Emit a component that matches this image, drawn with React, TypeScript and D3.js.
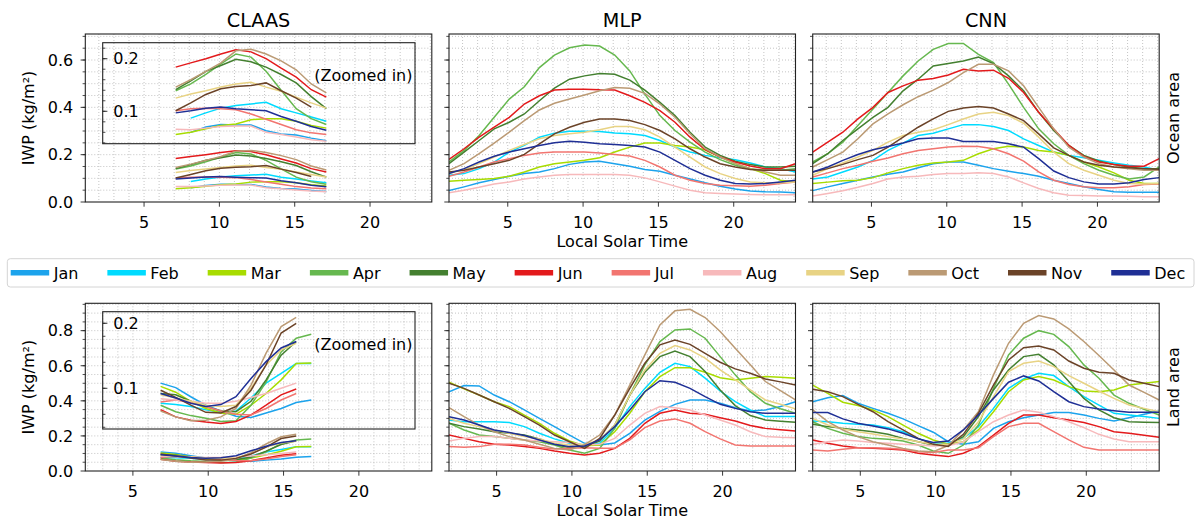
import React, { useMemo } from "react";
import * as d3 from "d3";

// months, colours
const months = ["Jan", "Feb", "Mar", "Apr", "May", "Jun", "Jul", "Aug", "Sep", "Oct", "Nov", "Dec"];
const monthColors = [
  "#1ca3ec", "#00dbff", "#a8dc00", "#66b84f", "#448030", "#e31a1c",
  "#f27570", "#f7b9bb", "#e8d384", "#bb9a74", "#6b4328", "#1f2f95",
];

// hours of the day (local solar time is hour + shift)
const hourOfDay = [1, 2, 3, 4, 5, 6, 7, 8, 9, 10, 11, 12, 13, 14, 15, 16, 17, 18, 19, 20, 21, 22, 23, 24];
const claasOceanHours = [7, 8, 9, 10, 11, 12, 13, 14, 15, 16, 17];
const claasLandHours = [6, 7, 8, 9, 10, 11, 12, 13, 14, 15, 16];

const xTicks = [5, 10, 15, 20];

// CLAAS, ocean (one row per month, null = no data)
const claasOcean = [
  [null, 0.060, 0.070, 0.075, 0.074, 0.074, 0.063, 0.057, 0.055, 0.049, 0.044],
  [null, 0.087, 0.097, 0.106, 0.111, 0.114, 0.117, 0.105, 0.097, 0.089, 0.081],
  [0.056, 0.060, 0.067, 0.073, 0.076, 0.084, 0.086, 0.086, 0.081, 0.073, 0.068],
  [0.139, 0.152, 0.170, 0.190, 0.209, 0.203, 0.176, 0.140, 0.105, 0.086, 0.075],
  [0.141, 0.158, 0.176, 0.187, 0.199, 0.194, 0.184, 0.170, 0.154, 0.128, 0.105],
  [0.184, 0.192, 0.200, 0.209, 0.217, 0.213, 0.200, 0.182, 0.165, 0.141, 0.127],
  [0.101, 0.105, 0.106, 0.105, 0.103, 0.095, 0.085, 0.075, 0.065, 0.059, 0.056],
  [0.066, 0.065, 0.068, 0.071, 0.072, 0.072, 0.060, 0.056, 0.051, 0.046, 0.043],
  [0.125, 0.133, 0.139, 0.146, 0.152, 0.155, 0.146, 0.138, 0.127, 0.116, 0.106],
  [0.146, 0.160, 0.176, 0.192, 0.215, 0.218, 0.209, 0.196, 0.179, 0.152, 0.135],
  [0.101, 0.116, 0.132, 0.143, 0.147, 0.149, 0.154, 0.139, 0.125, 0.108, null],
  [0.097, 0.101, 0.106, 0.108, 0.105, 0.103, 0.101, 0.090, 0.081, 0.071, 0.064],
];

// CLAAS, land
const claasLand = [
  [0.108, 0.101, 0.087, 0.074, 0.065, 0.057, 0.055, 0.062, 0.069, 0.078, 0.082],
  [0.077, 0.075, 0.072, 0.067, 0.063, 0.065, 0.085, 0.108, 0.123, 0.138, 0.138],
  [0.103, 0.094, 0.080, 0.069, 0.062, 0.060, 0.074, 0.092, 0.113, 0.138, 0.139],
  [0.074, 0.064, 0.058, 0.054, 0.049, 0.050, 0.074, 0.110, 0.156, 0.177, 0.183],
  [0.092, 0.090, 0.080, 0.072, 0.065, 0.064, 0.080, 0.113, 0.151, 0.172, null],
  [0.067, 0.056, 0.051, 0.048, 0.046, 0.049, 0.059, 0.074, 0.090, 0.099, null],
  [0.079, 0.082, 0.078, 0.072, 0.065, 0.060, 0.059, 0.069, 0.082, 0.092, null],
  [0.084, 0.082, 0.080, 0.077, 0.077, 0.080, 0.086, 0.092, 0.100, 0.108, null],
  [0.090, 0.085, 0.080, 0.074, 0.072, 0.074, 0.100, 0.136, 0.159, 0.169, null],
  [0.065, 0.056, 0.050, 0.051, 0.056, 0.069, 0.105, 0.154, 0.195, 0.209, null],
  [0.097, 0.086, 0.074, 0.063, 0.062, 0.072, 0.097, 0.136, 0.185, 0.200, null],
  [0.092, 0.085, 0.077, 0.072, 0.075, 0.087, 0.115, 0.141, 0.162, 0.172, null],
];

// MLP, ocean
const mlpOcean = [
  [0.048, 0.064, 0.081, 0.095, 0.109, 0.120, 0.127, 0.141, 0.159, 0.169, 0.172, 0.162, 0.151, 0.137, 0.130, 0.113, 0.097, 0.081, 0.067, 0.055, 0.046, 0.043, 0.042, 0.039],
  [0.113, 0.120, 0.141, 0.169, 0.211, 0.239, 0.274, 0.291, 0.299, 0.299, 0.298, 0.292, 0.288, 0.281, 0.260, 0.232, 0.211, 0.197, 0.187, 0.179, 0.165, 0.148, 0.141, 0.127],
  [0.088, 0.092, 0.095, 0.099, 0.109, 0.127, 0.148, 0.162, 0.169, 0.176, 0.187, 0.211, 0.232, 0.249, 0.249, 0.239, 0.232, 0.221, 0.190, 0.162, 0.141, 0.120, 0.092, 0.085],
  [0.169, 0.218, 0.281, 0.358, 0.435, 0.487, 0.568, 0.621, 0.652, 0.663, 0.659, 0.621, 0.554, 0.456, 0.365, 0.302, 0.253, 0.211, 0.179, 0.155, 0.141, 0.134, 0.134, 0.141],
  [0.162, 0.211, 0.260, 0.309, 0.337, 0.372, 0.428, 0.481, 0.519, 0.533, 0.543, 0.540, 0.515, 0.473, 0.421, 0.365, 0.295, 0.232, 0.197, 0.172, 0.158, 0.148, 0.148, 0.151],
  [0.180, 0.225, 0.274, 0.316, 0.358, 0.414, 0.449, 0.473, 0.477, 0.477, 0.474, 0.473, 0.449, 0.421, 0.386, 0.337, 0.274, 0.221, 0.190, 0.169, 0.152, 0.141, 0.141, 0.162],
  [0.109, 0.127, 0.148, 0.169, 0.183, 0.197, 0.207, 0.211, 0.211, 0.211, 0.207, 0.201, 0.194, 0.176, 0.148, 0.113, 0.092, 0.078, 0.071, 0.069, 0.067, 0.071, 0.078, 0.085],
  [0.039, 0.050, 0.062, 0.076, 0.085, 0.097, 0.106, 0.113, 0.116, 0.116, 0.116, 0.116, 0.113, 0.102, 0.085, 0.067, 0.050, 0.039, 0.036, 0.034, 0.032, 0.031, 0.031, 0.031],
  [0.120, 0.137, 0.162, 0.190, 0.218, 0.243, 0.267, 0.281, 0.288, 0.295, 0.305, 0.319, 0.319, 0.305, 0.274, 0.232, 0.190, 0.148, 0.120, 0.099, 0.085, 0.081, 0.081, 0.085],
  [0.134, 0.162, 0.204, 0.249, 0.295, 0.344, 0.389, 0.417, 0.435, 0.452, 0.470, 0.484, 0.481, 0.459, 0.414, 0.358, 0.288, 0.225, 0.190, 0.162, 0.141, 0.127, 0.113, 0.113],
  [0.127, 0.134, 0.148, 0.162, 0.176, 0.201, 0.246, 0.288, 0.316, 0.337, 0.351, 0.351, 0.344, 0.327, 0.302, 0.267, 0.225, 0.190, 0.162, 0.148, 0.137, 0.134, 0.134, 0.134],
  [0.120, 0.141, 0.169, 0.193, 0.211, 0.225, 0.239, 0.250, 0.257, 0.253, 0.246, 0.243, 0.239, 0.232, 0.211, 0.176, 0.141, 0.113, 0.092, 0.078, 0.076, 0.078, 0.085, 0.092],
];

// CNN, ocean
const cnnOcean = [
  [0.048, 0.064, 0.078, 0.092, 0.106, 0.117, 0.127, 0.145, 0.162, 0.169, 0.169, 0.155, 0.141, 0.130, 0.120, 0.109, 0.092, 0.078, 0.064, 0.053, 0.043, 0.041, 0.041, 0.041],
  [0.097, 0.106, 0.127, 0.148, 0.176, 0.218, 0.249, 0.281, 0.291, 0.309, 0.327, 0.327, 0.319, 0.302, 0.267, 0.239, 0.211, 0.197, 0.187, 0.176, 0.165, 0.155, 0.148, 0.134],
  [0.078, 0.084, 0.090, 0.092, 0.103, 0.123, 0.141, 0.155, 0.165, 0.169, 0.176, 0.204, 0.225, 0.236, 0.232, 0.218, 0.211, 0.197, 0.169, 0.148, 0.123, 0.092, 0.078, 0.078],
  [0.169, 0.204, 0.253, 0.323, 0.393, 0.463, 0.533, 0.596, 0.645, 0.670, 0.670, 0.624, 0.589, 0.498, 0.400, 0.309, 0.246, 0.197, 0.162, 0.134, 0.113, 0.097, 0.106, 0.148],
  [0.162, 0.204, 0.260, 0.309, 0.358, 0.400, 0.470, 0.519, 0.575, 0.585, 0.596, 0.613, 0.585, 0.533, 0.470, 0.379, 0.302, 0.239, 0.197, 0.173, 0.158, 0.148, 0.141, 0.141],
  [0.211, 0.253, 0.295, 0.351, 0.400, 0.463, 0.491, 0.515, 0.522, 0.537, 0.561, 0.554, 0.557, 0.523, 0.463, 0.379, 0.309, 0.239, 0.193, 0.169, 0.158, 0.151, 0.151, 0.183],
  [0.106, 0.123, 0.141, 0.155, 0.172, 0.186, 0.204, 0.218, 0.225, 0.232, 0.236, 0.235, 0.225, 0.204, 0.173, 0.127, 0.092, 0.074, 0.064, 0.060, 0.060, 0.064, 0.074, 0.076],
  [0.025, 0.036, 0.048, 0.062, 0.078, 0.097, 0.106, 0.109, 0.116, 0.120, 0.120, 0.124, 0.120, 0.106, 0.081, 0.057, 0.039, 0.029, 0.027, 0.025, 0.025, 0.024, 0.022, 0.022],
  [0.113, 0.141, 0.165, 0.190, 0.218, 0.253, 0.281, 0.295, 0.305, 0.327, 0.351, 0.372, 0.379, 0.365, 0.333, 0.274, 0.211, 0.162, 0.134, 0.113, 0.092, 0.078, 0.076, 0.078],
  [0.148, 0.179, 0.211, 0.267, 0.330, 0.372, 0.411, 0.445, 0.473, 0.505, 0.547, 0.582, 0.582, 0.554, 0.491, 0.400, 0.309, 0.232, 0.190, 0.162, 0.148, 0.141, 0.134, 0.134],
  [0.127, 0.141, 0.159, 0.179, 0.197, 0.232, 0.274, 0.316, 0.351, 0.383, 0.397, 0.404, 0.397, 0.372, 0.344, 0.288, 0.229, 0.197, 0.169, 0.155, 0.148, 0.145, 0.141, 0.138],
  [0.127, 0.148, 0.176, 0.201, 0.221, 0.235, 0.249, 0.267, 0.270, 0.270, 0.256, 0.256, 0.256, 0.246, 0.232, 0.183, 0.131, 0.103, 0.085, 0.076, 0.076, 0.081, 0.095, 0.103],
];

// MLP, land
const mlpLand = [
  [0.452, 0.487, 0.485, 0.433, 0.395, 0.348, 0.300, 0.253, 0.205, 0.158, 0.148, 0.160, 0.215, 0.290, 0.340, 0.380, 0.405, 0.405, 0.386, 0.361, 0.342, 0.348, 0.368, 0.395],
  [0.291, 0.281, 0.281, 0.281, 0.276, 0.253, 0.215, 0.183, 0.158, 0.143, 0.158, 0.243, 0.367, 0.471, 0.563, 0.614, 0.595, 0.529, 0.456, 0.395, 0.348, 0.310, 0.310, 0.310],
  [0.506, 0.468, 0.433, 0.395, 0.367, 0.319, 0.272, 0.215, 0.171, 0.144, 0.148, 0.224, 0.329, 0.452, 0.538, 0.589, 0.589, 0.563, 0.532, 0.519, 0.529, 0.538, 0.534, 0.529],
  [0.272, 0.234, 0.205, 0.196, 0.186, 0.177, 0.167, 0.148, 0.120, 0.101, 0.129, 0.243, 0.433, 0.605, 0.738, 0.804, 0.810, 0.757, 0.652, 0.548, 0.452, 0.386, 0.355, 0.329],
  [0.272, 0.253, 0.240, 0.224, 0.215, 0.205, 0.183, 0.152, 0.133, 0.139, 0.171, 0.262, 0.433, 0.563, 0.652, 0.684, 0.652, 0.567, 0.462, 0.373, 0.316, 0.291, 0.284, 0.278],
  [0.205, 0.186, 0.167, 0.152, 0.148, 0.139, 0.129, 0.114, 0.101, 0.091, 0.101, 0.129, 0.186, 0.272, 0.329, 0.348, 0.329, 0.323, 0.304, 0.285, 0.259, 0.243, 0.235, 0.228],
  [0.139, 0.135, 0.139, 0.152, 0.152, 0.148, 0.135, 0.125, 0.129, 0.133, 0.129, 0.129, 0.177, 0.247, 0.285, 0.297, 0.272, 0.224, 0.183, 0.148, 0.143, 0.143, 0.143, 0.143],
  [0.171, 0.186, 0.196, 0.196, 0.186, 0.177, 0.171, 0.167, 0.163, 0.148, 0.152, 0.186, 0.262, 0.329, 0.367, 0.361, 0.348, 0.319, 0.291, 0.262, 0.224, 0.196, 0.192, 0.190],
  [0.300, 0.272, 0.253, 0.234, 0.215, 0.196, 0.183, 0.158, 0.148, 0.152, 0.177, 0.262, 0.433, 0.576, 0.671, 0.715, 0.690, 0.643, 0.576, 0.519, 0.462, 0.405, 0.380, 0.354],
  [0.361, 0.310, 0.262, 0.224, 0.196, 0.177, 0.152, 0.129, 0.120, 0.150, 0.205, 0.319, 0.490, 0.662, 0.833, 0.913, 0.922, 0.875, 0.795, 0.700, 0.605, 0.510, 0.458, 0.405],
  [0.500, 0.471, 0.433, 0.395, 0.357, 0.310, 0.262, 0.205, 0.167, 0.129, 0.186, 0.319, 0.471, 0.614, 0.719, 0.747, 0.722, 0.671, 0.620, 0.582, 0.557, 0.525, 0.508, 0.490],
  [0.310, 0.291, 0.262, 0.234, 0.219, 0.202, 0.177, 0.152, 0.139, 0.143, 0.177, 0.253, 0.348, 0.452, 0.515, 0.506, 0.471, 0.424, 0.380, 0.357, 0.338, 0.329, 0.329, 0.329],
];

// CNN, land
const cnnLand = [
  [0.395, 0.418, 0.430, 0.386, 0.357, 0.329, 0.297, 0.259, 0.221, 0.167, 0.152, 0.167, 0.243, 0.281, 0.304, 0.319, 0.333, 0.333, 0.319, 0.300, 0.285, 0.304, 0.323, 0.342],
  [0.285, 0.281, 0.272, 0.266, 0.262, 0.247, 0.224, 0.186, 0.158, 0.158, 0.186, 0.253, 0.357, 0.471, 0.525, 0.557, 0.544, 0.481, 0.424, 0.376, 0.329, 0.319, 0.310, 0.300],
  [0.490, 0.443, 0.392, 0.373, 0.348, 0.310, 0.262, 0.215, 0.177, 0.152, 0.167, 0.234, 0.338, 0.452, 0.519, 0.538, 0.519, 0.481, 0.456, 0.452, 0.462, 0.490, 0.500, 0.510],
  [0.281, 0.243, 0.215, 0.196, 0.186, 0.181, 0.171, 0.148, 0.114, 0.101, 0.148, 0.262, 0.471, 0.662, 0.757, 0.800, 0.779, 0.709, 0.605, 0.529, 0.433, 0.386, 0.352, 0.319],
  [0.266, 0.253, 0.243, 0.234, 0.224, 0.209, 0.186, 0.167, 0.148, 0.152, 0.196, 0.310, 0.462, 0.576, 0.652, 0.665, 0.605, 0.510, 0.414, 0.348, 0.304, 0.281, 0.278, 0.276],
  [0.177, 0.158, 0.143, 0.133, 0.129, 0.125, 0.120, 0.101, 0.091, 0.082, 0.101, 0.139, 0.205, 0.272, 0.319, 0.319, 0.304, 0.291, 0.276, 0.253, 0.224, 0.215, 0.204, 0.192],
  [0.120, 0.114, 0.124, 0.133, 0.133, 0.129, 0.124, 0.110, 0.106, 0.120, 0.120, 0.133, 0.196, 0.253, 0.272, 0.272, 0.224, 0.177, 0.135, 0.120, 0.120, 0.120, 0.120, 0.120],
  [0.152, 0.167, 0.177, 0.171, 0.163, 0.158, 0.152, 0.148, 0.143, 0.144, 0.167, 0.224, 0.281, 0.319, 0.348, 0.335, 0.310, 0.281, 0.247, 0.209, 0.183, 0.167, 0.167, 0.167],
  [0.300, 0.262, 0.240, 0.224, 0.211, 0.196, 0.183, 0.167, 0.152, 0.152, 0.183, 0.281, 0.424, 0.567, 0.614, 0.627, 0.595, 0.544, 0.500, 0.456, 0.414, 0.376, 0.357, 0.338],
  [0.348, 0.281, 0.234, 0.196, 0.167, 0.148, 0.129, 0.114, 0.110, 0.145, 0.234, 0.338, 0.548, 0.728, 0.842, 0.886, 0.867, 0.810, 0.738, 0.658, 0.576, 0.490, 0.448, 0.405],
  [0.466, 0.452, 0.424, 0.380, 0.338, 0.281, 0.234, 0.186, 0.152, 0.140, 0.209, 0.329, 0.490, 0.633, 0.703, 0.713, 0.690, 0.627, 0.586, 0.563, 0.557, 0.519, 0.500, 0.481],
  [0.333, 0.333, 0.297, 0.272, 0.257, 0.240, 0.215, 0.183, 0.163, 0.171, 0.234, 0.319, 0.414, 0.506, 0.542, 0.513, 0.452, 0.395, 0.367, 0.354, 0.344, 0.335, 0.335, 0.335],
];

const FONT = "DejaVu Sans, sans-serif";
const W = 1202;
const H = 520;
const colLeft = [85.3, 449, 812.7];
const panelW = 346.5;

const rowSpecs = [
  {
    key: "ocean", top: 34, bottom: 202, yMax: 0.71, shift: 0.1, xDom: [1.1, 24.1],
    insetTop: 42.7, insetBottom: 143.7, insetDom: [0.0384, 0.2304], insetNoteY: 80.5,
    label: "Ocean area", claas: claasOcean, claasHours: claasOceanHours, mlp: mlpOcean, cnn: cnnOcean,
  },
  {
    key: "land", top: 303.3, bottom: 471, yMax: 0.956, shift: 0.84, xDom: [1.84, 24.84],
    insetTop: 311.7, insetBottom: 429, insetDom: [0.0374, 0.2178], insetNoteY: 349.5,
    label: "Land area", claas: claasLand, claasHours: claasLandHours, mlp: mlpLand, cnn: cnnLand,
  },
];

const insetLeft = 102.7;
const insetRight = 415;
const gridStyle = { stroke: "#b5b5b5", strokeWidth: 0.8, strokeDasharray: "1,2" };

type Pt = [number, number | null];

function Panel({ row, col, title }: any) {
  const left = colLeft[col];
  const x = d3.scaleLinear().domain(row.xDom).range([left, left + panelW]);
  const y = d3.scaleLinear().domain([0, row.yMax]).range([row.bottom, row.top]);
  const clipId = `clip-${row.key}-${col}`;

  const source = col === 0 ? row.claas : col === 1 ? row.mlp : row.cnn;
  const hours = col === 0 ? row.claasHours : hourOfDay;
  const series: Pt[][] = source.map((vals: (number | null)[]) =>
    hours.map((h: number, i: number) => [h + row.shift, vals[i]] as Pt)
  );

  const line = d3
    .line<Pt>()
    .defined((d) => d[1] != null)
    .x((d) => x(d[0]))
    .y((d) => y(d[1] as number));

  const vGrid = d3.range(Math.ceil(row.xDom[0]), Math.floor(row.xDom[1]) + 1);
  const yMinor = d3.range(1, Math.floor(row.yMax / 0.05 + 1e-6) + 1).map((k) => k * 0.05);
  const yMajor = d3.range(0, Math.floor(row.yMax / 0.2 + 1e-6) + 1).map((k) => k * 0.2);

  // inset (CLAAS only)
  const yIn = d3.scaleLinear().domain(row.insetDom).range([row.insetBottom, row.insetTop]);
  const lineIn = d3
    .line<Pt>()
    .defined((d) => d[1] != null)
    .x((d) => x(d[0]))
    .y((d) => yIn(d[1] as number));
  const inMinor = d3.range(2, 12).map((k) => k * 0.02).filter((v) => v >= row.insetDom[0] && v <= row.insetDom[1]);
  const inMajor = [0.1, 0.2];

  return (
    <g>
      <defs>
        <clipPath id={clipId}>
          <rect x={left} y={row.top} width={panelW} height={row.bottom - row.top} />
        </clipPath>
        <clipPath id={clipId + "-in"}>
          <rect x={insetLeft} y={row.insetTop} width={insetRight - insetLeft} height={row.insetBottom - row.insetTop} />
        </clipPath>
      </defs>
      <rect x={left} y={row.top} width={panelW} height={row.bottom - row.top} fill="#fff" />
      {vGrid.map((v: number) => (
        <line key={"v" + v} x1={x(v)} x2={x(v)} y1={row.top} y2={row.bottom} {...gridStyle} />
      ))}
      {yMinor.map((v: number) => (
        <line key={"h" + v} x1={left} x2={left + panelW} y1={y(v)} y2={y(v)} {...gridStyle} />
      ))}
      <g clipPath={`url(#${clipId})`}>
        {series.map((s, i) => (
          <path key={i} d={line(s) || ""} fill="none" stroke={monthColors[i]} strokeWidth={1.5} />
        ))}
      </g>
      {col === 0 && (
        <g>
          <g clipPath={`url(#${clipId}-in)`}>
            {series.map((s, i) => (
              <path key={i} d={lineIn(s) || ""} fill="none" stroke={monthColors[i]} strokeWidth={1.5} />
            ))}
          </g>
          <rect x={insetLeft} y={row.insetTop} width={insetRight - insetLeft} height={row.insetBottom - row.insetTop}
            fill="none" stroke="#222" strokeWidth={1.1} />
          {inMinor.map((v) => (
            <line key={"im" + v} x1={insetLeft} x2={insetLeft + 2.7} y1={yIn(v)} y2={yIn(v)} stroke="#222" strokeWidth={0.8} />
          ))}
          {inMajor.map((v) => (
            <g key={"iM" + v}>
              <line x1={insetLeft} x2={insetLeft + 4.7} y1={yIn(v)} y2={yIn(v)} stroke="#222" strokeWidth={0.9} />
              <text x={insetLeft + 10.6} y={yIn(v) + 5.8} fontSize={16} fontFamily={FONT} fill="#000">
                {v.toFixed(1)}
              </text>
            </g>
          ))}
          <text x={412.5} y={row.insetNoteY} fontSize={16} fontFamily={FONT} textAnchor="end" fill="#000">
            (Zoomed in)
          </text>
        </g>
      )}
      <rect x={left} y={row.top} width={panelW} height={row.bottom - row.top} fill="none" stroke="#222" strokeWidth={1.1} />
      {yMinor.map((v: number) => (
        <line key={"ym" + v} x1={left - 2.7} x2={left} y1={y(v)} y2={y(v)} stroke="#222" strokeWidth={0.8} />
      ))}
      {yMajor.map((v: number) => (
        <g key={"yM" + v}>
          <line x1={left - 4.7} x2={left} y1={y(v)} y2={y(v)} stroke="#222" strokeWidth={0.9} />
          {col === 0 && (
            <text x={left - 12} y={y(v) + 5.8} fontSize={16} fontFamily={FONT} textAnchor="end" fill="#000">
              {v.toFixed(1)}
            </text>
          )}
        </g>
      ))}
      {xTicks.map((v) => (
        <g key={"x" + v}>
          <line x1={x(v)} x2={x(v)} y1={row.bottom} y2={row.bottom + 4.7} stroke="#222" strokeWidth={0.9} />
          <text x={x(v)} y={row.bottom + 25.5} fontSize={16} fontFamily={FONT} textAnchor="middle" fill="#000">
            {v}
          </text>
        </g>
      ))}
      {title && (
        <text x={left + panelW / 2} y={26.5} fontSize={19.2} fontFamily={FONT} textAnchor="middle" fill="#000">
          {title}
        </text>
      )}
      {col === 1 && (
        <text x={left + panelW / 2} y={row.bottom + 45} fontSize={16} fontFamily={FONT} textAnchor="middle" fill="#000">
          Local Solar Time
        </text>
      )}
      {col === 0 && (
        <text transform={`translate(34,${(row.top + row.bottom) / 2}) rotate(-90)`} fontSize={16} fontFamily={FONT}
          textAnchor="middle" fill="#000">
          IWP (kg/m²)
        </text>
      )}
      {col === 2 && (
        <text transform={`translate(1179,${(row.top + row.bottom) / 2}) rotate(-90)`} fontSize={16} fontFamily={FONT}
          textAnchor="middle" fill="#000">
          {row.label}
        </text>
      )}
    </g>
  );
}

function Legend() {
  const handleLen = 38.5;
  const textPad = 4.5;
  const colGap = 29;
  const positions = useMemo(() => {
    const ctx = document.createElement("canvas").getContext("2d");
    if (ctx) ctx.font = "16px 'DejaVu Sans'";
    const out: number[] = [];
    let cx = 10.7;
    months.forEach((m) => {
      out.push(cx);
      const w = ctx ? ctx.measureText(m).width : 28;
      cx += handleLen + textPad + w + colGap;
    });
    return out;
  }, []);
  const cy = 272.7;
  return (
    <g>
      <rect x={7.3} y={258.7} width={1186.7} height={28.3} rx={3} fill="#fff" stroke="#d4d4d4" strokeWidth={1} />
      {months.map((m, i) => (
        <g key={m}>
          <line x1={positions[i]} x2={positions[i] + handleLen} y1={cy} y2={cy} stroke={monthColors[i]} strokeWidth={5.5} />
          <text x={positions[i] + handleLen + textPad} y={cy + 5.8} fontSize={16} fontFamily={FONT} fill="#000">
            {m}
          </text>
        </g>
      ))}
    </g>
  );
}

const titles = ["CLAAS", "MLP", "CNN"];

export default function App() {
  return (
    <svg width={W} height={H} style={{ position: "absolute", left: 0, top: 0, background: "#fff" }}>
      <rect width={W} height={H} fill="#fff" />
      {rowSpecs.map((row, r) =>
        [0, 1, 2].map((c) => <Panel key={`${r}-${c}`} row={row} col={c} title={r === 0 ? titles[c] : null} />)
      )}
      <Legend />
    </svg>
  );
}
